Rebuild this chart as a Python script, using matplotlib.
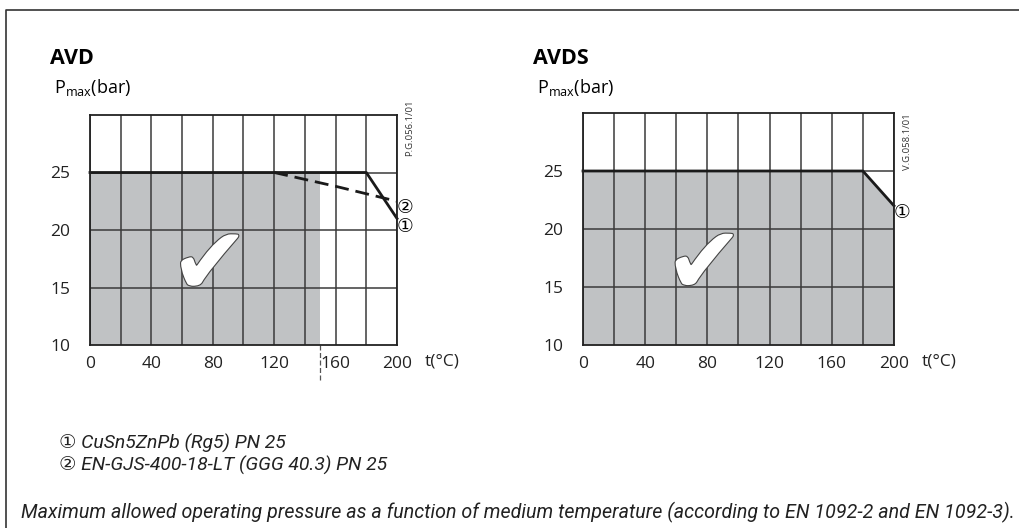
import matplotlib
matplotlib.use("Agg")
import matplotlib.pyplot as plt
import matplotlib.patheffects as pe
from matplotlib.lines import Line2D

plt.rcParams['font.family'] = ['Open Sans', 'DejaVu Sans', 'Noto Sans CJK JP']
plt.rcParams['mathtext.fontset'] = 'custom'
plt.rcParams['mathtext.rm'] = 'Open Sans'

# --- data ---
t_grid = [0, 20, 40, 60, 80, 100, 120, 140, 160, 180, 200]
t_ticks = [0, 40, 80, 120, 160, 200]
p_ticks = [10, 15, 20, 25]
p_grid = [15, 20, 25]

# AVD
avd_cusn_t = [0, 180, 200]          # (1) CuSn5ZnPb
avd_cusn_p = [25, 25, 21]
avd_ggg_t = [120, 160, 200]         # (2) EN-GJS-400-18-LT
avd_ggg_p = [25, 23.8, 22.5]
avd_fill_t = [0, 150]               # allowed area ends at 150 °C
avd_fill_p = [25, 25]

# AVDS
avds_t = [0, 180, 200]
avds_p = [25, 25, 22]

FILL = '#c0c2c4'
GRID = '#3a3a3a'
INK = '#222222'

fig = plt.figure(figsize=(10.2, 5.28), dpi=100)
W, H = 1020, 528


def px_axes(x0, y0, x1, y1):
    return fig.add_axes([x0 / W, 1 - y1 / H, (x1 - x0) / W, (y1 - y0) / H])


def setup(ax):
    ax.set_xlim(0, 200)
    ax.set_ylim(10, 30)
    ax.set_xticks(t_ticks)
    ax.set_yticks(p_ticks)
    ax.tick_params(length=0, labelsize=12.5, colors=INK)
    ax.tick_params(axis='y', pad=14)
    ax.tick_params(axis='x', pad=8)
    for t in t_grid:
        ax.axvline(t, color=GRID, lw=1.1, zorder=2)
    for p in p_grid:
        ax.axhline(p, color=GRID, lw=1.1, zorder=2)
    for s in ax.spines.values():
        s.set_color(INK)
        s.set_linewidth(1.3)
        s.set_zorder(4)
    # x-axis unit sits on the tick label row
    ax.text(1.09, -0.072, 't(°C)', transform=ax.transAxes, fontsize=12.5,
            ha='left', va='center', color=INK)


def checkmark(ax, x, y):
    ax.text(x, y, '\u2714', fontsize=68, ha='center', va='center', color='white',
            family='DejaVu Sans', zorder=5,
            path_effects=[pe.withStroke(linewidth=1.6, foreground='#444444')])


# ---- AVD ----
ax1 = px_axes(90, 115, 397, 345)
setup(ax1)
ax1.fill_between(avd_fill_t, avd_fill_p, 10, color=FILL, lw=0, zorder=1)
ax1.plot(avd_cusn_t, avd_cusn_p, color='#1a1a1a', lw=2.0, zorder=3, clip_on=False)
ax1.plot(avd_ggg_t, avd_ggg_p, color='#1a1a1a', lw=2.0, ls=(0, (5, 2.5)), zorder=3,
         clip_on=False)
ax1.add_line(Line2D([avd_fill_t[-1]] * 2, [10, 6.9], color='#555555', lw=0.9,
                    ls=(0, (4, 2)), clip_on=False))
checkmark(ax1, 78, 16.7)
ax1.annotate('\u2461', (200, avd_ggg_p[-1]), xytext=(0, -7), textcoords='offset pixels',
             fontsize=13.5, ha='left', va='center')
ax1.annotate('\u2460', (200, avd_cusn_p[-1]), xytext=(0, -8), textcoords='offset pixels',
             fontsize=13.5, ha='left', va='center')
ax1.text(1.04, 0.945, 'P.G.056.1/01', transform=ax1.transAxes, rotation=90,
         fontsize=6.8, ha='center', va='center', color='#333333')

# ---- AVDS ----
ax2 = px_axes(583, 113, 894, 345)
setup(ax2)
ax2.fill_between(avds_t, avds_p, 10, color=FILL, lw=0, zorder=1)
ax2.plot(avds_t, avds_p, color='#1a1a1a', lw=2.0, zorder=3, clip_on=False)
checkmark(ax2, 78, 16.7)
ax2.annotate('\u2460', (200, avds_p[-1]), xytext=(0, -7), textcoords='offset pixels',
             fontsize=13.5, ha='left', va='center')
ax2.text(1.045, 0.875, 'V.G.058.1/01', transform=ax2.transAxes, rotation=90,
         fontsize=6.8, ha='center', va='center', color='#333333')

# ---- titles and axis captions ----
fig.text(50 / W, 1 - 58 / H, 'AVD', fontsize=15.5, fontweight='bold', va='center')
fig.text(54 / W, 1 - 88 / H, r'$\mathrm{P}_{\mathrm{max}}\mathrm{(bar)}$', fontsize=13,
         va='center')
fig.text(533 / W, 1 - 58 / H, 'AVDS', fontsize=15.5, fontweight='bold', va='center')
fig.text(537 / W, 1 - 88 / H, r'$\mathrm{P}_{\mathrm{max}}\mathrm{(bar)}$', fontsize=13,
         va='center')

# ---- legend and caption ----
ital = ['Roboto', 'DejaVu Sans', 'Noto Sans CJK JP']
leg1 = fig.text(59 / W, 1 - 443 / H, '\u2460 CuSn5ZnPb (Rg5) PN 25', fontsize=12,
                style='italic', family=ital, va='center', color=INK)
leg2 = fig.text(59 / W, 1 - 465 / H, '\u2461 EN-GJS-400-18-LT (GGG 40.3) PN 25', fontsize=12,
                style='italic', family=ital, va='center', color=INK)
cap = fig.text(21 / W, 1 - 512 / H,
               'Maximum allowed operating pressure as a function of medium temperature '
               '(according to EN 1092-2 and EN 1092-3).',
               fontsize=13, style='italic', family=ital, va='center', color=INK)

# scale text so it spans the same width as in the reference
fig.canvas.draw()
r = fig.canvas.get_renderer()
s = 226 / leg1.get_window_extent(r).width
leg1.set_fontsize(12 * s)
leg2.set_fontsize(12 * s)
cap.set_fontsize(13 * 989 / cap.get_window_extent(r).width)

# ---- frame ----
fig.add_artist(Line2D([6 / W, 6 / W, 1.0], [0, 1 - 10 / H, 1 - 10 / H],
                      transform=fig.transFigure, color='#333333', lw=1.2))

fig.savefig('out.png', dpi=100)
